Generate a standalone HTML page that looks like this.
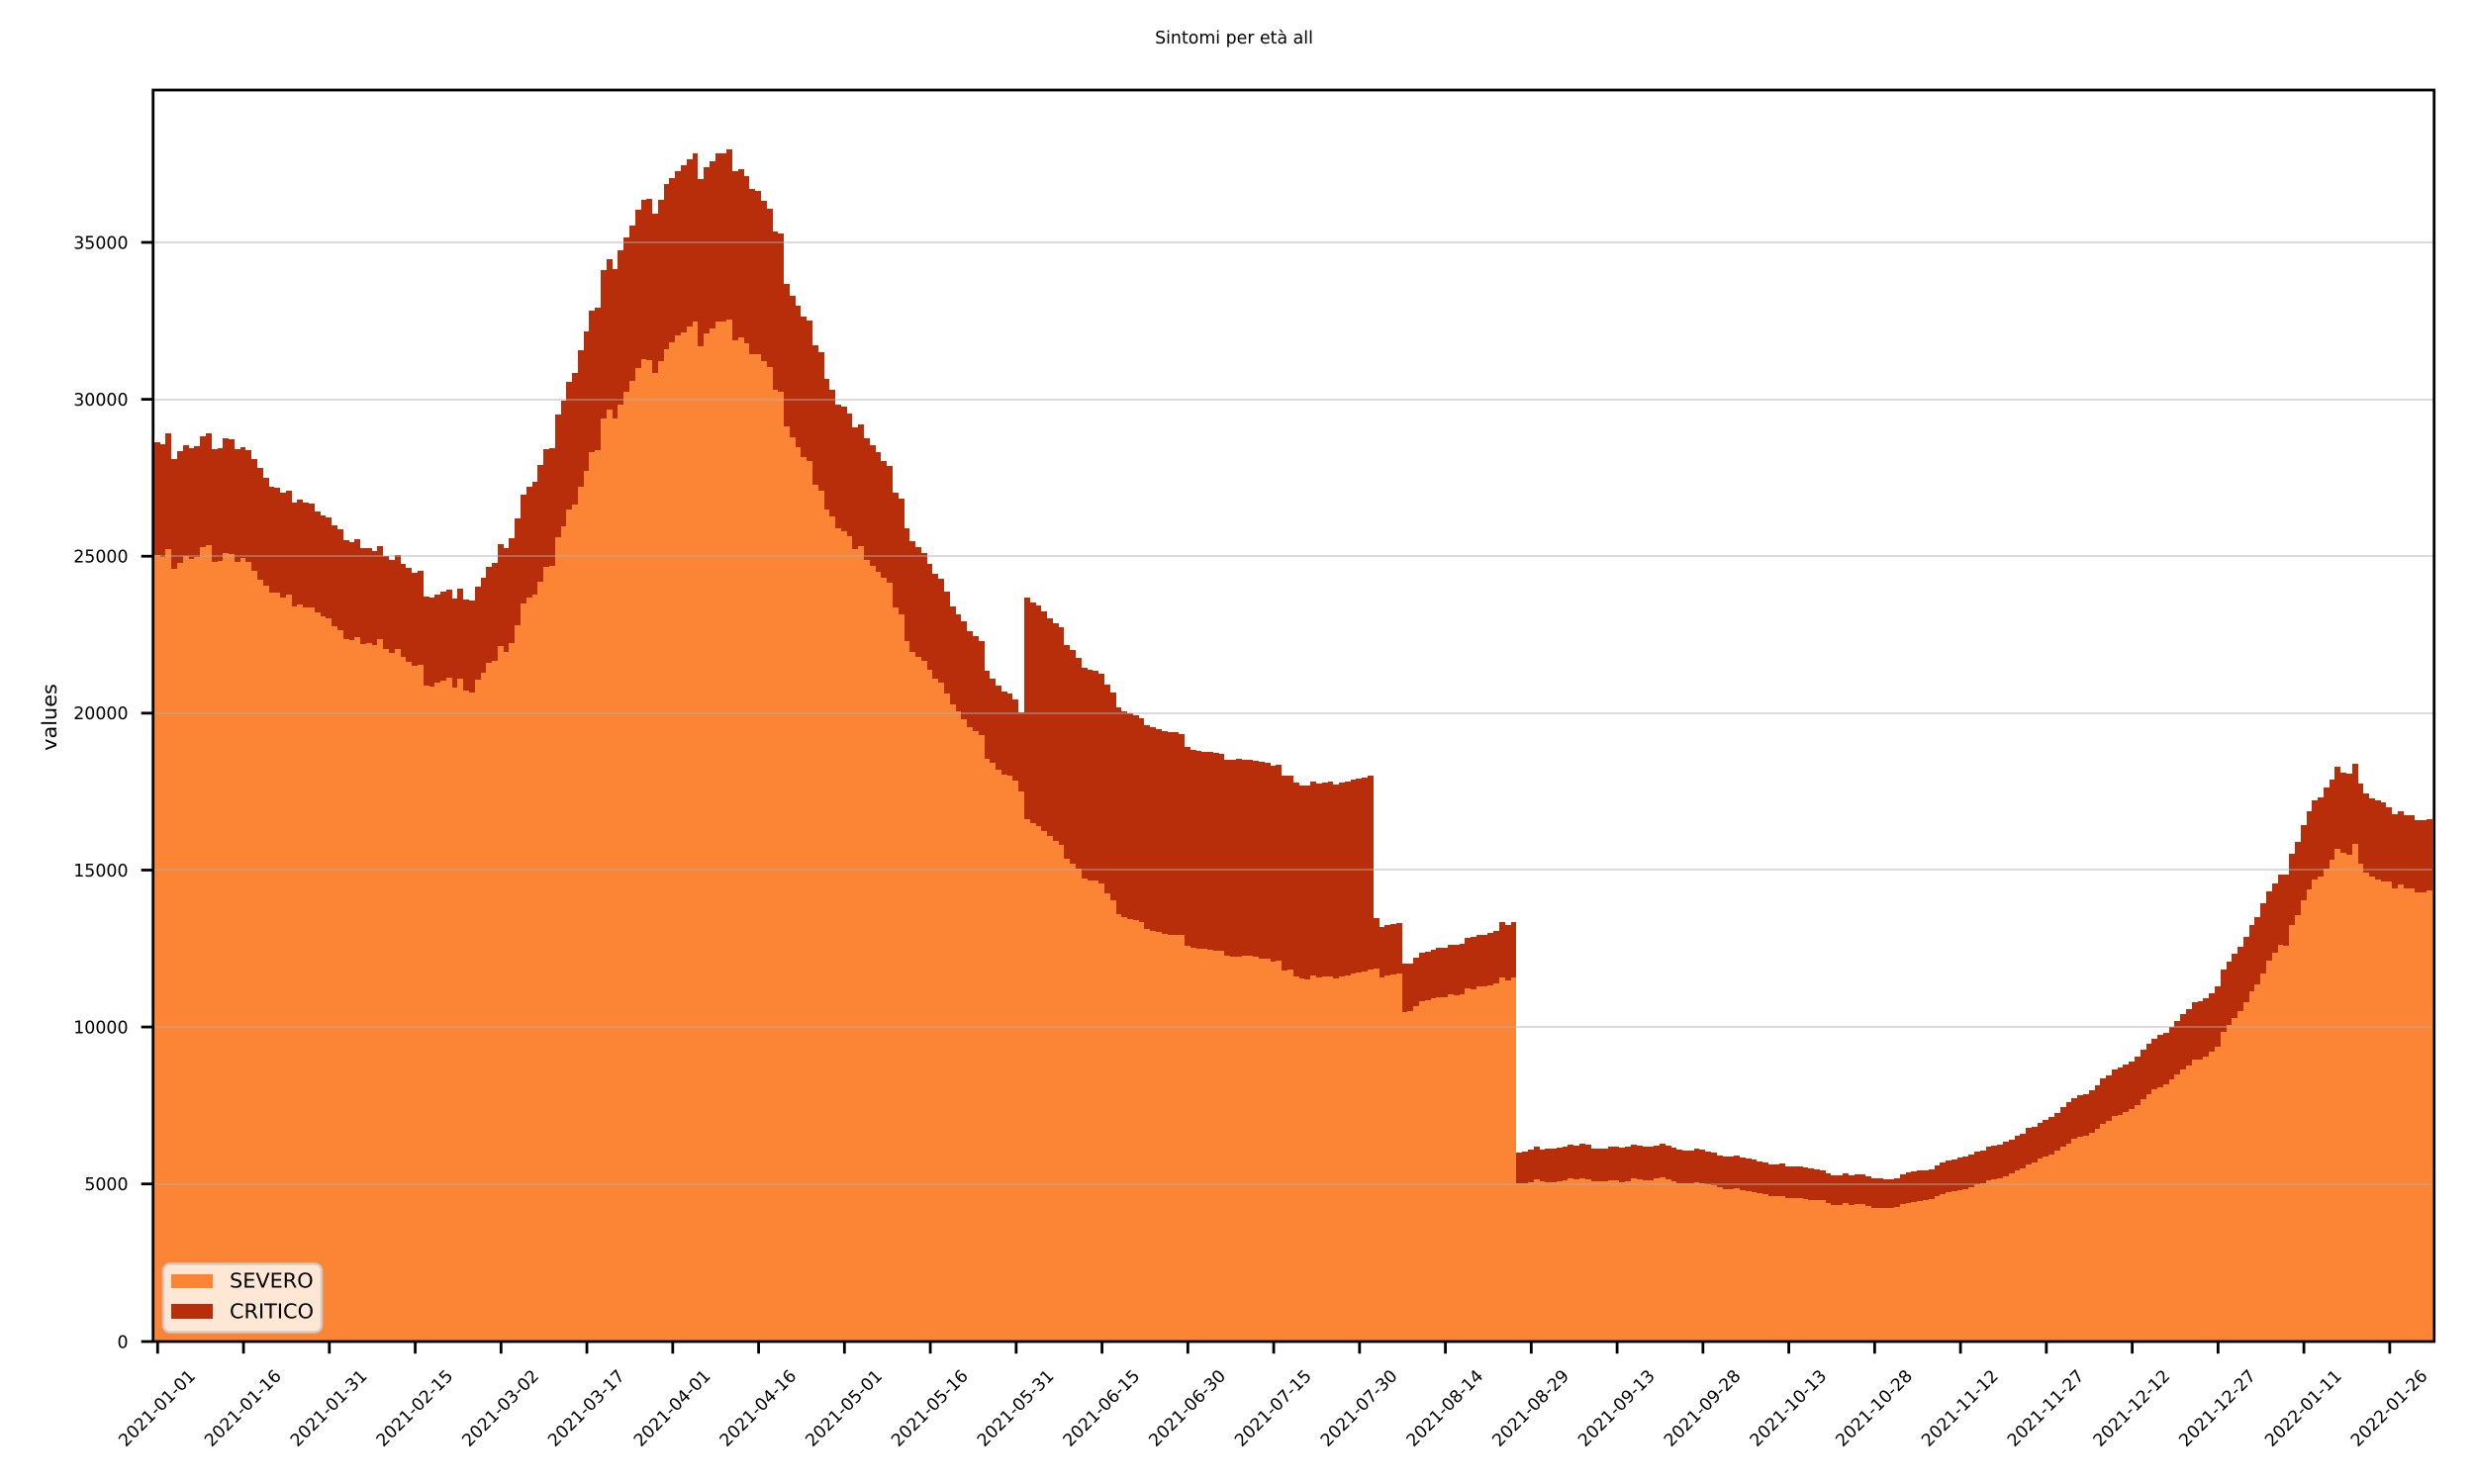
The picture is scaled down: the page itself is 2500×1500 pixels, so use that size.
<!DOCTYPE html>
<html lang="it">
<head>
<meta charset="utf-8">
<title>Sintomi per età all</title>
<style>
html,body{margin:0;padding:0;background:#fff;}
svg{display:block;}
text{font-family:"DejaVu Sans","Liberation Sans",sans-serif;fill:#000;}
</style>
</head>
<body>
<svg id="chart" xmlns="http://www.w3.org/2000/svg" width="2500" height="1500" viewBox="0 0 2500 1500">
  <rect x="0" y="0" width="2500" height="1500" fill="#ffffff"/>
  <text x="1247" y="44" font-size="17.36" text-anchor="middle">Sintomi per età all</text>
  <g id="bars"></g>
  <g id="grid"></g>
  <rect x="154.7" y="91" width="2305" height="1265" fill="none" stroke="#000" stroke-width="2.78"/>
  <g id="yticks"></g>
  <g id="xticks"></g>
  <text font-size="20.83" text-anchor="middle" transform="translate(57,725) rotate(-90)">values</text>
  <g>
    <rect x="165" y="1277.5" width="160" height="69" rx="7" ry="7" fill="#ffffff" fill-opacity="0.8" stroke="#cccccc" stroke-opacity="0.8" stroke-width="2.78"/>
    <g>
      <rect x="173" y="1288" width="42" height="14" fill="#fc8535"/>
      <text x="232" y="1301.7" font-size="20.83">SEVERO</text>
    </g>
    <g>
      <rect x="173" y="1318" width="42" height="15" fill="#b92e0a"/>
      <text x="232" y="1332.7" font-size="20.83">CRITICO</text>
    </g>
  </g>
</svg>
<script>
var severo = [25038,24975,25227,24597,24786,25006,24912,24975,25290,25353,24817,24849,25101,25070,24817,24944,24817,24534,24250,24061,23840,23840,23683,23777,23399,23462,23367,23367,23210,23084,23021,22769,22643,22359,22327,22422,22201,22233,22170,22359,22044,21918,22044,21791,21634,21508,21539,20877,20846,20972,21035,21129,20814,21098,20720,20657,21067,21287,21602,21665,22138,21949,22233,22800,23494,23683,23777,
24200,24650,24680,25620,25950,
26486,26644,27211,27716,28315,28378,29386,29670,29386,29828,30237,30584,30994,31278,31246,30836,31215,31593,31813,32034,32129,32318,32476,31687,32097,32255,32476,32476,32538,31877,31971,31782,31435,31435,31215,31025,30300,30237,29134,28787,28472,28157,28031,27274,27085,26486,26266,
25887,25792,25634,25225,25319,24878,24689,24500,24311,24153,23365,23144,22293,21947,21789,21663,21379,21095,20969,20622,20276,20055,19803,19551,19425,19299,
18550,18417,18196,18038,18007,17849,17503,16620,16494,16399,16242,16084,15926,15800,15359,15202,15044,14729,14666,14666,14571,14256,14035,13594,13499,13436,13405,13342,13121,13058,13027,12964,12932,12932,12932,12585,12522,12491,12491,12459,12428,12428,12270,12238,12238,12270,12270,12238,12175,12175,12081,12112,11797,11829,11608,11545,11513,11640,11577,11608,11608,11545,11608,11640,11703,11734,11766,11829,
11861,11577,11640,11672,11703,10474,10506,10663,10821,10852,10915,10947,10947,11042,11010,11042,11231,11199,11294,11294,11325,11388,11577,11483,11577,
5010,5010,5052,5147,5084,5052,5052,5084,5115,5178,5147,5178,5147,5084,5084,5084,5115,5115,5052,5084,5178,5147,5115,5115,5178,5210,5147,5084,5021,5021,5021,5052,5021,4989,4958,4895,4832,4832,4863,4800,4769,4737,4706,4674,4611,4611,4611,4548,4548,4548,4516,4485,4485,4485,4390,4327,4327,4390,4327,4359,4359,4296,4233,4233,4233,4233,4264,4359,4390,4422,4453,4485,4516,4611,4674,4737,4769,4800,4832,4895,4989,
5021,5115,5147,5178,5241,5336,5431,5493,5619,5683,5809,5872,5935,6061,6187,6282,6439,6502,6534,6628,6754,6912,7006,7164,7196,7290,7385,7511,7700,7858,8015,8078,8173,8330,8488,8646,8772,8961,8961,9055,9213,9370,9843,10064,10285,10505,10789,11136,11356,11703,12113,12365,12617,12586,13248,13563,14036,14382,14698,14792,15044,15328,15675,15549,15486,15832,15202,14918,14792,14698,14635,14635,14414,14540,14414,14414,14288,14288,14351];

var critico = [3594,3593,3688,3499,3562,3531,3530,3530,3531,3562,3594,3593,3657,3656,3594,3530,3562,3562,3562,3436,3373,3342,3341,3310,3310,3341,3342,3310,3215,3215,3215,3215,3215,3152,3121,3121,3058,3026,2994,2963,2962,2963,2994,2963,2994,2963,2995,2837,2837,2805,2837,2806,2837,2868,2900,2931,2962,3026,3058,3121,3247,3310,3341,3404,3467,3530,3594,
3705,3759,3761,3893,4004,
4067,4192,4350,4444,4507,4539,4729,4791,4760,4917,4918,4949,5043,5074,5138,5075,5137,5264,5233,5233,5327,5327,5358,5327,5296,5327,5358,5358,5422,5390,5359,5327,5264,5201,5106,5044,5044,5044,4539,4508,4508,4476,4476,4445,4413,4161,4034,
3941,3973,3910,3878,3878,3878,3846,3815,3720,3720,3656,3688,3594,3530,3499,3436,3373,3342,3310,3247,3120,3089,3121,3057,3026,2994,
2798,2678,2679,2648,2615,2585,2521,7061,7029,7030,6997,6935,6935,6935,6809,6808,6714,6714,6714,6682,6683,6651,6620,6588,6557,6557,6525,6493,6493,6493,6461,6461,6462,6462,6399,6336,6305,6304,6272,6304,6304,6272,6241,6273,6305,6241,6241,6242,6273,6242,6241,6242,6210,6178,6178,6147,6179,6178,6178,6178,6210,6178,6178,6178,6178,6178,6178,6178,
1608,1608,1608,1607,1608,1545,1513,1545,1544,1545,1545,1576,1576,1576,1608,1607,1607,1671,1639,1639,1671,1671,1766,1765,1766,
988,1019,1041,1040,1009,1072,1072,1072,1072,1072,1072,1104,1103,1040,1040,1040,1072,1072,1104,1103,1072,1072,1072,1072,1041,1072,1072,1072,1072,1040,1040,1072,1072,1040,1040,1008,1040,1040,1040,1040,1040,1040,1008,1009,1009,1009,1040,1009,1009,1009,1009,1009,977,946,946,946,946,946,946,946,946,946,945,945,914,914,914,946,978,977,978,946,946,977,1009,1009,1008,1040,1040,1040,1040,
1040,1072,1072,1072,1104,1072,1103,1104,1167,1134,1134,1166,1198,1198,1261,1323,1292,1324,1324,1356,1387,1450,1451,1482,1513,1513,1513,1544,1576,1607,1608,1671,1639,1671,1702,1765,1796,1828,1860,1860,1860,1923,1986,2017,2049,2049,2081,2112,2144,2238,2206,2207,2238,2269,2269,2332,2395,2491,2521,2522,2585,2553,2616,2553,2584,2554,2553,2522,2490,2521,2521,2364,2364,2333,2333,2333,2301,2301,2269];

var xTickLabels = ["2021-01-01","2021-01-16","2021-01-31","2021-02-15","2021-03-02","2021-03-17","2021-04-01","2021-04-16","2021-05-01","2021-05-16","2021-05-31","2021-06-15","2021-06-30","2021-07-15","2021-07-30","2021-08-14","2021-08-29","2021-09-13","2021-09-28","2021-10-13","2021-10-28","2021-11-12","2021-11-27","2021-12-12","2021-12-27","2022-01-11","2022-01-26"];
var yTickValues = [0,5000,10000,15000,20000,25000,30000,35000];
var xTickEvery = 15;

var NS = "http://www.w3.org/2000/svg";
function xScale(i){ return 158.8 + 5.7835 * i; }
function yScale(v){ return 1355.3 - 0.031723 * v; }

var barsG = document.getElementById("bars");
var gridG = document.getElementById("grid");
var yG = document.getElementById("yticks");
var xG = document.getElementById("xticks");

function addBar(i, base, value, fill, name){
  var x0 = Math.round(xScale(i - 0.5));
  var x1 = Math.round(xScale(i + 0.5));
  var yTop = Math.round(yScale(base + value));
  var yBot = Math.round(yScale(base));
  var r = document.createElementNS(NS, "rect");
  r.setAttribute("x", x0);
  r.setAttribute("y", yTop);
  r.setAttribute("width", x1 - x0);
  r.setAttribute("height", Math.max(0, yBot - yTop));
  r.setAttribute("fill", fill);
  r.setAttribute("shape-rendering", "crispEdges");
  
  
  barsG.appendChild(r);
}

for (var i = 0; i < severo.length; i++) {
  addBar(i, 0, severo[i], "#fc8535", "bar-severo");
  addBar(i, severo[i], critico[i], "#b92e0a", "bar-critico");
}

yTickValues.forEach(function(v){
  var y = yScale(v);
  if (v > 0) {
    var g = document.createElementNS(NS, "line");
    g.setAttribute("x1", 156);
    g.setAttribute("x2", 2458.5);
    g.setAttribute("y1", Math.round(y));
    g.setAttribute("y2", Math.round(y));
    g.setAttribute("stroke", "#b0b0b0");
    g.setAttribute("stroke-opacity", "0.45");
    g.setAttribute("stroke-width", "2");
    
    
    gridG.appendChild(g);
  }
  var yy = v === 0 ? 1356 : y;
  var t = document.createElementNS(NS, "line");
  t.setAttribute("x1", 142.7);
  t.setAttribute("x2", 154.7);
  t.setAttribute("y1", yy);
  t.setAttribute("y2", yy);
  t.setAttribute("stroke", "#000");
  t.setAttribute("stroke-width", "2.78");
  
  
  yG.appendChild(t);
  var l = document.createElementNS(NS, "text");
  l.setAttribute("x", 129.5);
  l.setAttribute("y", yy + 6.3);
  l.setAttribute("font-size", "17.36");
  l.setAttribute("text-anchor", "end");
  
  
  l.textContent = String(v);
  yG.appendChild(l);
});

xTickLabels.forEach(function(label, idx){
  var x = xScale(idx * xTickEvery) + 0.5;
  var t = document.createElementNS(NS, "line");
  t.setAttribute("x1", x);
  t.setAttribute("x2", x);
  t.setAttribute("y1", 1356);
  t.setAttribute("y2", 1368.2);
  t.setAttribute("stroke", "#000");
  t.setAttribute("stroke-width", "2.78");
  
  
  xG.appendChild(t);
  var l = document.createElementNS(NS, "text");
  l.setAttribute("font-size", "17.36");
  l.setAttribute("text-anchor", "middle");
  l.setAttribute("transform", "translate(" + (x - 1) + ",1423) rotate(-45) translate(0,6.3)");
  
  
  l.textContent = label;
  xG.appendChild(l);
});
</script>
</body>
</html>
